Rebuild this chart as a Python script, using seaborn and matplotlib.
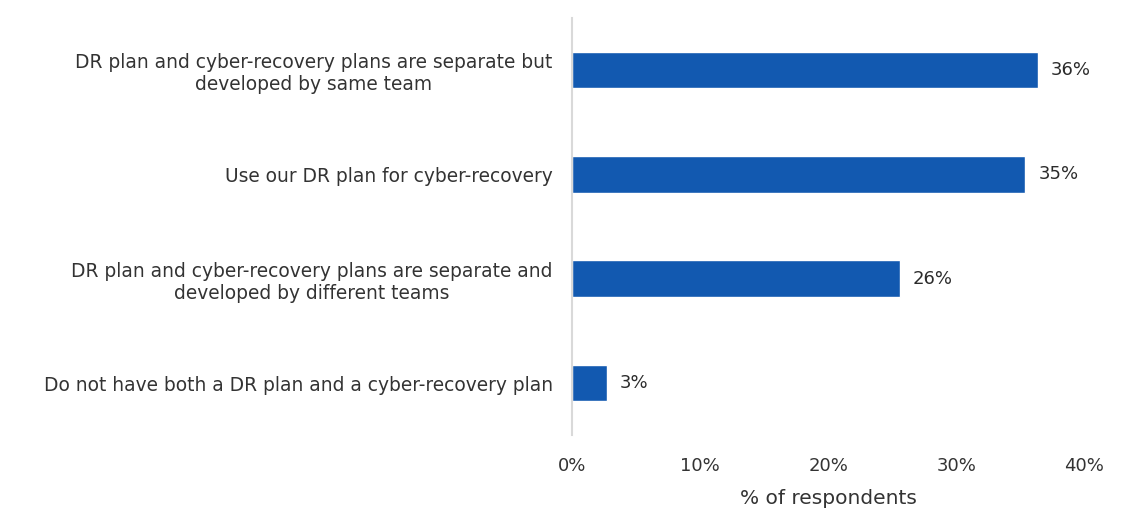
import matplotlib
matplotlib.use("Agg")
import matplotlib.pyplot as plt
import seaborn as sns
import pandas as pd

categories = [
    "DR plan and cyber-recovery plans are separate but\ndeveloped by same team",
    "Use our DR plan for cyber-recovery",
    "DR plan and cyber-recovery plans are separate and\ndeveloped by different teams",
    "Do not have both a DR plan and a cyber-recovery plan",
]
values = [36.4, 35.4, 25.6, 2.7]
x_ticks = [0, 10, 20, 30, 40]
x_tick_labels = ["0%", "10%", "20%", "30%", "40%"]

df = pd.DataFrame({"category": categories, "value": values})

sns.set_theme(style="white")
plt.rcParams["font.family"] = ["DejaVu Sans"]

fig = plt.figure(figsize=(11.33, 5.25), dpi=100)
ax = fig.add_axes([0.505, 0.171, 0.452, 0.795])

sns.barplot(data=df, x="value", y="category", color="#1259B0",
            width=0.35, saturation=1, ax=ax)

# value labels at the bar ends
for i, v in enumerate(values):
    ax.text(v + 1.0, i, f"{v:.0f}%", va="center", ha="left",
            fontsize=13, color="#2b2b2b", fontweight="medium")

ax.set_xlim(0, 40)
ax.set_ylim(3.5, -0.5)
ax.set_xticks(x_ticks)
ax.set_xticklabels(x_tick_labels)
ax.set_xlabel("% of respondents", fontsize=14.5, color="#333333", labelpad=10)
ax.set_ylabel("")
ax.tick_params(axis="both", length=0, colors="#333333")
ax.tick_params(axis="y", pad=14, labelsize=13.4)
ax.tick_params(axis="x", pad=16, labelsize=13)
for lab in ax.get_yticklabels():
    lab.set_multialignment("center")

for s in ["top", "right", "bottom"]:
    ax.spines[s].set_visible(False)
ax.spines["left"].set_color("#d9d9d9")
ax.spines["left"].set_linewidth(1.5)

plt.savefig("out.png", dpi=100)
plt.close()
